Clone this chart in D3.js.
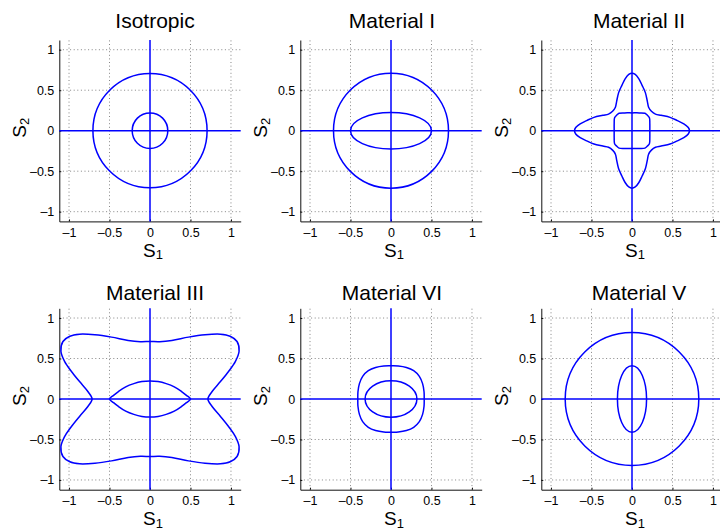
<!DOCTYPE html>
<html lang="en">
<head>
<meta charset="utf-8">
<script src="https://cdn.jsdelivr.net/npm/d3@7/dist/d3.min.js"></script>
<style>
    body { margin: 0; background: #fff; }
    svg text { font-family: "Liberation Sans", Arial, sans-serif; fill: #000; }
</style>
</head>
<body>
<div id="chart"></div>
<script>
    // panel titles, in reading order
    const titles = ["Isotropic", "Material I", "Material II", "Material III", "Material VI", "Material V"];

    const tickValues = [-1, -0.5, 0, 0.5, 1];
    const tickLabels = ["\u20131", "\u20130.5", "0", "0.5", "1"];
    const gridValues = [-1, -0.5, 0.5, 1];

    // ellipses as [semi-axis S1, semi-axis S2]
    const isoEllipses = [[0.705, 0.705], [0.22, 0.22]];
    const mat1Ellipses = [[0.71, 0.71], [0.5, 0.225]];
    const mat6Ellipses = [[0.32, 0.225]];
    const mat5Ellipses = [[0.825, 0.82], [0.18, 0.41]];

    // non-elliptic curves, first quadrant only (S1 axis -> S2 axis), the rest is mirrored
    const mat2Outer = [[0.71, 0], [0.695, 0.04], [0.64, 0.085], [0.56, 0.125], [0.47, 0.165],
        [0.36, 0.19], [0.29, 0.205], [0.24, 0.24], [0.205, 0.29], [0.19, 0.36], [0.165, 0.47],
        [0.125, 0.56], [0.085, 0.64], [0.04, 0.695], [0, 0.71]];
    const mat2Inner = [[0.22, 0], [0.22, 0.09], [0.215, 0.16], [0.19, 0.19], [0.16, 0.215],
        [0.09, 0.22], [0, 0.22]];
    const mat3Outer = [[0.715, 0], [0.765, 0.09], [0.87, 0.215], [0.97, 0.34], [1.055, 0.465],
        [1.1, 0.59], [1.075, 0.71], [0.99, 0.775], [0.87, 0.8], [0.68, 0.793], [0.475, 0.764],
        [0.27, 0.723], [0.12, 0.708], [0, 0.71]];
    const mat3Inner = [[0.5, 0], [0.45, 0.045], [0.39, 0.092], [0.3, 0.15], [0.2, 0.19],
        [0.1, 0.215], [0, 0.223]];
    const mat6Outer = [[0.41, 0], [0.408, 0.09], [0.39, 0.19], [0.35, 0.28], [0.28, 0.35],
        [0.19, 0.39], [0.09, 0.408], [0, 0.41]];

    const panels = [
        { ellipses: isoEllipses, loops: [] },
        { ellipses: mat1Ellipses, loops: [] },
        { ellipses: [], loops: [mat2Outer, mat2Inner] },
        { ellipses: [], loops: [mat3Outer, mat3Inner] },
        { ellipses: mat6Ellipses, loops: [mat6Outer] },
        { ellipses: mat5Ellipses, loops: [] }
    ];

    const width = 720, height = 532;
    const lim = 1.12, half = 90.7;
    const colCenters = [150, 391, 632];
    const rowCenters = [130.7, 399];
    const titleX = [155, 392, 639];
    const titleY = [28, 299.5];
    const blue = "#0000ff";
    const font = "'Liberation Sans', Arial, sans-serif";

    function mirror(q) {
        const n = q.length;
        const b = q.slice(0, n - 1).reverse().map(p => [-p[0], p[1]]);
        const c = q.slice(1).map(p => [-p[0], -p[1]]);
        const d = q.slice(1, n - 1).reverse().map(p => [p[0], -p[1]]);
        return q.concat(b, c, d);
    }

    const svg = d3.select("#chart").append("svg")
        .attr("width", width)
        .attr("height", height);
    svg.append("rect").attr("width", width).attr("height", height).attr("fill", "#fff");

    panels.forEach((p, i) => {
        const col = i % 3, row = Math.floor(i / 3);
        const cx = colCenters[col], cy = rowCenters[row];
        const x = d3.scaleLinear().domain([-lim, lim]).range([cx - half, cx + half]);
        const y = d3.scaleLinear().domain([-lim, lim]).range([cy + half, cy - half]);
        const g = svg.append("g");

        // dotted grid
        g.selectAll(".gx").data(gridValues).join("line")
            .attr("x1", d => x(d)).attr("x2", d => x(d))
            .attr("y1", y(-lim)).attr("y2", y(lim))
            .attr("stroke", "#666").attr("stroke-width", 0.8)
            .attr("stroke-dasharray", "1,2.6");
        g.selectAll(".gy").data(gridValues).join("line")
            .attr("y1", d => y(d)).attr("y2", d => y(d))
            .attr("x1", x(-lim)).attr("x2", x(lim))
            .attr("stroke", "#666").attr("stroke-width", 0.8)
            .attr("stroke-dasharray", "1,2.6");

        const fmt = d => tickLabels[tickValues.indexOf(d)];
        const xAxis = g.append("g")
            .attr("transform", `translate(0,${y(-lim)})`)
            .call(d3.axisBottom(x).tickValues(tickValues).tickFormat(fmt)
                .tickSizeInner(-2).tickSizeOuter(0).tickPadding(6.4));
        const yAxis = g.append("g")
            .attr("transform", `translate(${x(-lim)},0)`)
            .call(d3.axisLeft(y).tickValues(tickValues).tickFormat(fmt)
                .tickSizeInner(-2).tickSizeOuter(0).tickPadding(5));
        [xAxis, yAxis].forEach(a => {
            a.attr("font-family", font).attr("font-size", 12.5);
            a.select(".domain").attr("stroke", "#111");
            a.selectAll(".tick line").attr("stroke", "#111");
        });

        // zero axes
        g.append("line")
            .attr("x1", x(-lim)).attr("x2", x(lim))
            .attr("y1", y(0)).attr("y2", y(0))
            .attr("stroke", blue).attr("stroke-width", 1.5);
        g.append("line")
            .attr("x1", x(0)).attr("x2", x(0))
            .attr("y1", y(-lim)).attr("y2", y(lim))
            .attr("stroke", blue).attr("stroke-width", 1.5);

        g.selectAll("ellipse").data(p.ellipses).join("ellipse")
            .attr("cx", x(0)).attr("cy", y(0))
            .attr("rx", d => x(d[0]) - x(0))
            .attr("ry", d => y(0) - y(d[1]))
            .attr("fill", "none").attr("stroke", blue).attr("stroke-width", 1.5);

        const line = d3.line()
            .x(d => x(d[0])).y(d => y(d[1]))
            .curve(d3.curveCatmullRomClosed.alpha(0.5));
        g.selectAll(".loop").data(p.loops).join("path")
            .attr("d", d => line(mirror(d)))
            .attr("fill", "none").attr("stroke", blue).attr("stroke-width", 1.5);

        // title
        g.append("text")
            .attr("x", titleX[col]).attr("y", titleY[row])
            .attr("text-anchor", "middle")
            .attr("font-size", 21)
            .text(titles[i]);

        // S1 label
        const xl = g.append("text")
            .attr("x", cx + 3).attr("y", y(-lim) + 35.5)
            .attr("text-anchor", "middle")
            .attr("font-size", 19);
        xl.append("tspan").text("S");
        xl.append("tspan").attr("dy", 2.5).attr("font-size", 13).text("1");

        // S2 label
        const yl = g.append("text")
            .attr("transform", `translate(${x(-lim) - 33.3},${cy - 3}) rotate(-90)`)
            .attr("text-anchor", "middle")
            .attr("font-size", 19);
        yl.append("tspan").text("S");
        yl.append("tspan").attr("dy", 2.5).attr("font-size", 13).text("2");
    });
</script>
</body>
</html>
